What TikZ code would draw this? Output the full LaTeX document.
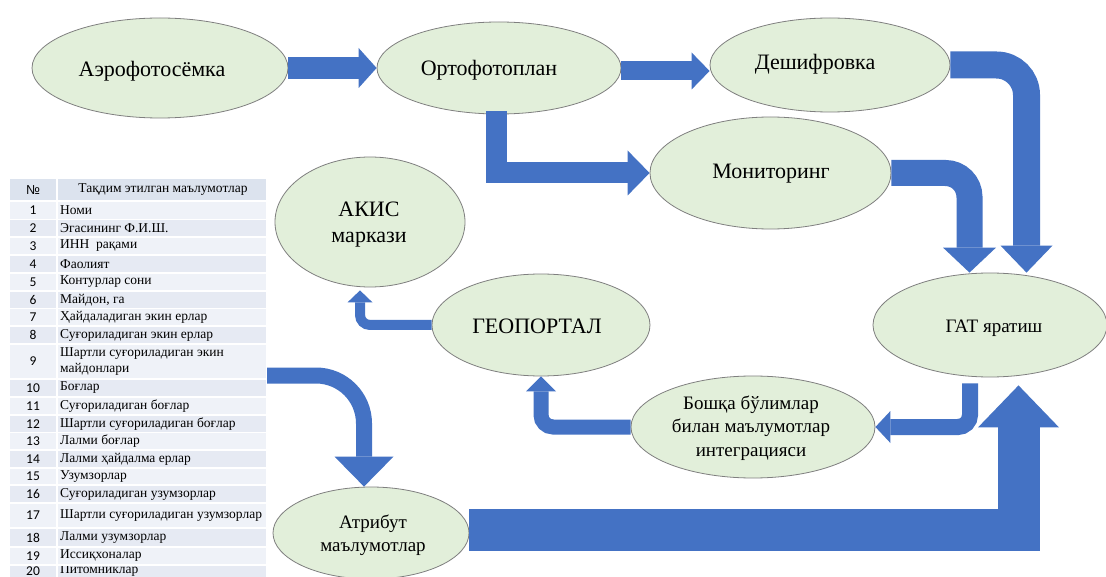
\documentclass[tikz,border=0pt]{standalone}
\usepackage{fontspec}
\setmainfont{Liberation Serif}
\newfontfamily\numfont{Carlito}
\newfontfamily\symfont{Liberation Sans}
\usetikzlibrary{shapes.geometric,arrows.meta}
\definecolor{ellfill}{HTML}{E2EFDA}
\definecolor{elldraw}{HTML}{7F7F7F}
\definecolor{ablue}{HTML}{4472C4}
\definecolor{rowA}{HTML}{E6EAF3}
\definecolor{rowB}{HTML}{EFF2F8}
\definecolor{rowH}{HTML}{DCE3EE}
\begin{document}
\begin{tikzpicture}[x=1pt,y=-1pt,
 ell/.style={ellipse, draw=elldraw, line width=0.8pt, fill=ellfill, inner sep=0pt},
 big/.style={font=\fontsize{22}{26}\selectfont, align=center, inner sep=0pt},
 mid/.style={font=\fontsize{19}{23.5}\selectfont, align=center, inner sep=0pt},
 barrow/.style n args={3}{draw=ablue, line width=#1, line join=miter, -{Triangle[width=#2, length=#3, line width=0pt]}},
 numtxt/.style={font=\numfont\fontsize{13.5}{15}\selectfont, inner sep=0pt},
 celltxt/.style={font=\fontsize{13.5}{16.5}\selectfont, anchor=west, align=left, inner sep=0pt},
 gridline/.style={draw=white, line width=1.5pt}
]
\fill[white] (0,0) rectangle (1106,577);
\useasboundingbox (0,0) rectangle (1106,577);

% ---------- table ----------
\fill[rowH] (10,179) rectangle (266,201);
\node[font=\symfont\fontsize{13}{15}\selectfont, inner sep=0pt] (hnum) at (33,190) {№};
\node[celltxt, anchor=center] (htxt) at (163,190) {Тақдим этилган маълумотлар};
\foreach \ya/\yb/\n/\s [count=\i] in {
201/219.5/1/Номи,
219.5/237/2/Эгасининг Ф.И.Ш.,
237/255/3/ИНН\ \ рақами,
255/273/4/Фаолият,
273/291/5/Контурлар сони,
291/308.5/6/{Майдон, га},
308.5/326/7/Ҳайдаладиган экин ерлар,
326/344/8/Суғориладиган экин ерлар,
344/379/9/{Шартли суғориладиган экин\\майдонлари},
379/397/10/Боғлар,
397/415/11/Суғориладиган боғлар,
415/432.5/12/Шартли суғориладиган боғлар,
432.5/450/13/Лалми боғлар,
450/468/14/Лалми ҳайдалма ерлар,
468/485/15/Узумзорлар,
485/503/16/Суғориладиган узумзорлар,
503/528/17/Шартли суғориладиган узумзорлар,
528/547/18/Лалми узумзорлар,
547/565/19/Иссиқхоналар,
565/577/20/Питомниклар}
{
  \ifodd\i\def\rc{rowB}\else\def\rc{rowA}\fi
  \fill[\rc] (10,\ya) rectangle (266,\yb);
  \node[numtxt] (num\i) at (33,{(\ya+\yb)/2}) {\n};
  \node[celltxt] (cell\i) at (60,{(\ya+\yb)/2}) {\s};
  \draw[gridline] (10,\ya) -- (266,\ya);
}
\draw[gridline] (57,179) -- (57,577);

% ---------- ellipses ----------
\node[ell, minimum width=256pt, minimum height=100pt] (aero) at (160,68) {};
\node[big] (aerot) at (152,71) {Аэрофотосёмка};
\node[ell, minimum width=244pt, minimum height=92pt] (orto) at (499,68) {};
\node[big] (ortot) at (489,70) {Ортофотоплан};
\node[ell, minimum width=240pt, minimum height=94pt] (desh) at (830,65) {};
\node[big] (desht) at (815,64) {Дешифровка};
\node[ell, minimum width=241pt, minimum height=112pt] (mon) at (770.5,173) {};
\node[big] (mont) at (771,174) {Мониторинг};
\node[ell, minimum width=190pt, minimum height=130pt] (akis) at (370,222) {};
\node[big] (akist) at (369,225) {АКИС\\маркази};
\node[ell, minimum width=218pt, minimum height=102pt] (geo) at (541,325) {};
\node[big] (geot) at (537,326) {ГЕОПОРТАЛ};
\node[ell, minimum width=234pt, minimum height=104pt] (gat) at (990,325) {};
\node[mid] (gatt) at (994,328) {ГАТ яратиш};
\node[ell, minimum width=244pt, minimum height=102pt] (bosh) at (753,427) {};
\node[mid] (bosht) at (751,428) {Бошқа бўлимлар\\билан маълумотлар\\интеграцияси};
\node[ell, minimum width=196pt, minimum height=92pt] (atrib) at (371,533) {};
\node[mid] (atribt) at (373,535) {Атрибут\\маълумотлар};

% ---------- block arrows ----------
\draw[barrow={22pt}{40pt}{18pt}] (aero.east) -- (orto.west);
\draw[barrow={19pt}{37pt}{18pt}] ([yshift=-3pt]orto.east) -- ([yshift=-3pt]orto.east -| desh.west);
\draw[barrow={21pt}{45pt}{22pt}] ([xshift=-2.5pt,yshift=3pt]orto.south) |- (mon.west);
\draw[barrow={27pt}{52pt}{27pt}, rounded corners=30pt] (desh.east) -| ([xshift=36.5pt]gat.north);
\draw[barrow={26pt}{53pt}{25pt}, rounded corners=24pt] (mon.east) -| ([xshift=-20.5pt]gat.north);
\draw[barrow={16pt}{32pt}{15pt}, rounded corners=12pt] ([xshift=-20pt,yshift=-6pt]gat.south) |- (bosh.east);
\draw[barrow={15pt}{30pt}{15pt}, rounded corners=12pt] (bosh.west) -| (geo.south);
\draw[barrow={10pt}{25pt}{12pt}, rounded corners=10pt] (geo.west) -| ([xshift=-10pt,yshift=-3pt]akis.south);
\coordinate (tabout) at (267,375.5);
\draw[barrow={16pt}{59pt}{30pt}, rounded corners=48pt] (tabout) -| ([xshift=-7pt]atrib.north);
\draw[barrow={42pt}{81pt}{42pt}] ([yshift=3pt]atrib.east) -| ([xshift=28.5pt,yshift=-8pt]gat.south);
\end{tikzpicture}
\end{document}
